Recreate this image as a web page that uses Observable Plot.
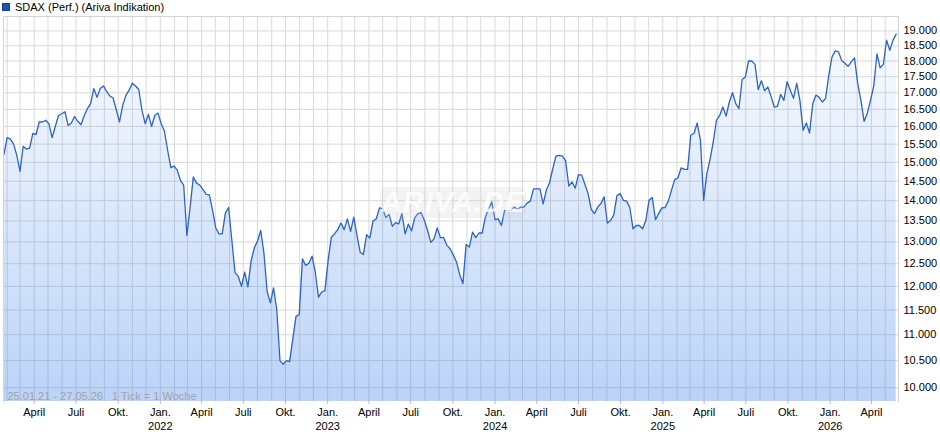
<!DOCTYPE html>
<html><head><meta charset="utf-8">
<script src="https://cdn.jsdelivr.net/npm/d3@7"></script>
<script src="https://cdn.jsdelivr.net/npm/@observablehq/plot@0.6"></script>
<style>
body{margin:0;background:#fff;font-family:"Liberation Sans",Arial,sans-serif;}
#wrap{width:940px;height:435px;position:relative;overflow:hidden;}
#title{height:14px;font-size:11px;line-height:14px;color:#000;display:flex;align-items:center;padding-left:2px;white-space:pre;}
.sw{display:inline-block;width:8px;height:8px;background:#1f52b8;border:1px solid #163f8f;box-sizing:border-box;margin-right:5px;}
#wm{position:absolute;left:380px;top:187px;width:146px;height:31px;border-radius:7px;background:rgba(200,200,200,0.22);
    font:italic bold 29px "Liberation Sans",Arial,sans-serif;color:rgba(255,255,255,0.75);text-align:center;line-height:31px;letter-spacing:1px;}
</style></head><body>
<div id="wrap">
  <div id="title"><span class="sw"></span><span id="tt"></span></div>
  <div id="chart"></div>
  <div id="wm">ARIVA.DE</div>
</div>
<script>
const seriesName = "SDAX (Perf.) (Ariva Indikation)";
const rangeLabel = "25.01.21 - 27.05.26";
const tickLabel = "1 Tick = 1 Woche";
const startDate = "2021-01-25";
const endDate = "2026-05-27";
const monthNames = {0: "Jan.", 3: "April", 6: "Juli", 9: "Okt."};
const yTickValues = [10000,10500,11000,11500,12000,12500,13000,13500,14000,14500,15000,15500,16000,16500,17000,17500,18000,18500,19000];
const yGridValues = [10000,10500,11000,11500,12000,12500,13000,13500,14000,14500,15000,15500,16000,16500,17000,17500,18000,18500,19000,19500];

// weekly closes (1 Tick = 1 Woche)
const values = [
15220,15680,15640,15500,15190,14760,15440,15360,15390,15800,
15770,16130,16130,16180,16080,15680,16000,16320,16370,16430,
16030,16100,16290,16150,16050,16310,16520,16670,17130,16860,
17130,17210,17040,16900,16840,16490,16130,16620,16920,17080,
17290,17210,17100,16470,16080,16350,16000,16320,16390,16080,
15870,15330,14860,14900,14790,14520,14390,13150,13840,14610,
14450,14400,14290,14160,14150,13760,13330,13190,13190,13690,
13830,13040,12300,12220,12000,12310,11990,12560,12860,13020,
13270,12740,11890,11650,11970,11510,10500,10430,10500,10480,
10920,11370,11410,
12610,12460,12510,12670,12310,11770,11880,11910,12570,13110,
13190,13290,13450,13290,13550,13250,13590,13150,12760,12710,
13170,13090,13500,13550,13820,13800,13580,13660,13370,13460,
13430,13680,13190,13420,13260,13580,13680,13700,13510,13270,
12990,13070,13330,13100,13100,12920,12840,12700,12540,12260,
12060,12940,12880,13230,13100,13210,13210,13590,13800,13970,
13530,13550,13390,13760,13740,13760,13840,13780,13840,13840,
13940,13990,14300,14300,14300,13920,14270,14460,14830,15170,
15190,15170,15040,14370,14480,14320,14670,14660,14420,14180,
13780,13680,
13840,13930,14100,13450,13510,13640,14130,14180,14010,13990,
13830,13310,13390,13390,13310,13510,14010,14080,13530,13680,
13820,13830,13990,14270,14540,14590,14850,14810,14810,15750,
15800,16100,15610,14010,14700,15080,15560,16180,16320,16570,
16300,16720,17000,16670,16520,17410,17490,18000,18000,17890,
17100,17370,17060,17180,16890,16570,16590,16950,16770,17340,
17080,16830,17290,16770,15890,16100,15810,16670,16930,16860,
16720,16830,17550,18130,18330,18300,18020,17930,17830,17970,
18100,17290,16770,16150,16380,16770,17210,18230,17780,17890,
18690,18350,18690,18890
];

document.getElementById("tt").textContent = seriesName;

const dates = d3.utcMonday.range(new Date(startDate), d3.utcDay.offset(new Date(endDate), 1));
const n = Math.min(dates.length, values.length);
const data = d3.range(n).map(i => ({date: dates[i], value: values[i]}));

const de = d3.formatLocale({decimal: ",", thousands: ".", grouping: [3], currency: ["", " €"]});
const fmtY = de.format(",d");
const xDomain = [new Date("2021-01-24"), new Date("2026-05-30")];
const yDomain = [9756, 19500];
const monthTicks = d3.utcMonth.range(xDomain[0], xDomain[1]);
const quarterTicks = monthTicks.filter(d => d.getUTCMonth() % 3 === 0);
const fmtX = d => d.getUTCMonth() === 0 ? `${monthNames[0]}\n${d.getUTCFullYear()}` : monthNames[d.getUTCMonth()];

const defs = () => {
  const s = d3.create("svg:defs");
  const g = s.append("linearGradient").attr("id", "areaGrad").attr("x1", 0).attr("y1", 0).attr("x2", 0).attr("y2", 1);
  g.append("stop").attr("offset", "0%").attr("stop-color", "#3d82ea").attr("stop-opacity", 0.03);
  g.append("stop").attr("offset", "100%").attr("stop-color", "#3d82ea").attr("stop-opacity", 0.35);
  return s.node();
};

const chart = Plot.plot({
  width: 940, height: 421,
  marginLeft: 3, marginRight: 42, marginTop: 2, marginBottom: 34,
  style: {fontFamily: "'Liberation Sans', Arial, sans-serif", fontSize: "11px", color: "#000", background: "transparent", overflow: "visible"},
  x: {type: "utc", domain: xDomain},
  y: {type: "log", domain: yDomain},
  marks: [
    defs,
    Plot.gridY(yGridValues, {stroke: "#d9d9d9", strokeOpacity: 1}),
    Plot.gridX(monthTicks, {stroke: "#d9d9d9", strokeOpacity: 1}),
    Plot.areaY(data, {x: "date", y1: yDomain[0], y2: "value", fill: "url(#areaGrad)"}),
    Plot.lineY(data, {x: "date", y: "value", stroke: "#2b63c9", strokeWidth: 1.3}),
    Plot.frame({stroke: "#d4d4d4", anchor: "left"}),
    Plot.frame({stroke: "#d4d4d4", anchor: "right"}),
    Plot.frame({stroke: "#d4d4d4", anchor: "top"}),
    Plot.text([`${rangeLabel}\u00a0\u00a0\u00a0${tickLabel}`], {frameAnchor: "bottom-left", dx: 4, dy: -2, fill: "#a3a3a3", fontSize: 11}),
    Plot.axisY(yTickValues, {anchor: "right", tickSize: 0, tickPadding: 5, tickFormat: fmtY, fontSize: 11, label: null}),
    Plot.axisX(quarterTicks, {anchor: "bottom", tickSize: 3, tickPadding: 2, tickFormat: fmtX, lineHeight: 1.25, fontSize: 11, label: null, stroke: "#bbb"})
  ]
});
document.getElementById("chart").appendChild(chart);
</script>
</body></html>
